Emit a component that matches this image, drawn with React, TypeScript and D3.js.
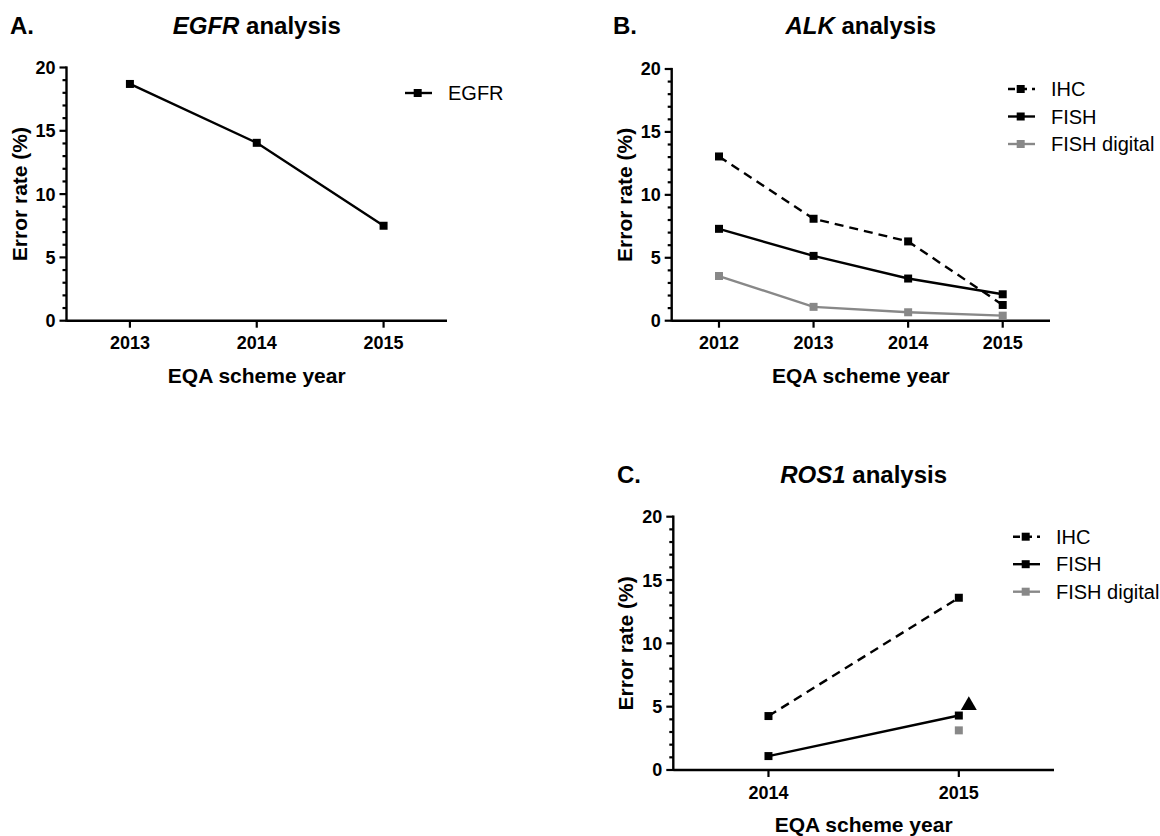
import { useEffect, useRef } from 'react';
import * as d3 from 'd3';

// categories
const yearsA = ['2013', '2014', '2015'];
const yearsB = ['2012', '2013', '2014', '2015'];
const yearsC = ['2014', '2015'];

// series values (error rate, %)
const egfr = [18.7, 14.05, 7.5];

const alkIHC = [13.05, 8.1, 6.3, 1.25];
const alkFISH = [7.3, 5.15, 3.35, 2.1];
const alkDigital = [3.55, 1.1, 0.67, 0.4];

const rosIHC = [4.26, 13.6];
const rosFISH = [1.1, 4.3];
const rosDigital = [null, 3.13];
const rosExtra = [null, 5.1]; // triangle next to 2015

const yTicks = [0, 5, 10, 15, 20];
const yMinorTicks = d3.range(0, 21, 1);

type Series = {
  name: string;
  values: (number | null)[];
  color: string;
  dash?: string;
  symbol?: d3.SymbolType;
  dx?: number;
  legend?: boolean;
};

type Panel = {
  letter: string;
  gene: string;
  years: string[];
  series: Series[];
  left: number;
  right: number;
  top: number;
  bottom: number;
  titleY: number;
  letterX: number;
  legendX: number;
  legendY: number;
};

const font = '"Liberation Sans", Arial, Helvetica, sans-serif';

const panels: Panel[] = [
  {
    letter: 'A.',
    gene: 'EGFR',
    years: yearsA,
    series: [{ name: 'EGFR', values: egfr, color: '#000' }],
    left: 66.5,
    right: 447,
    top: 67.5,
    bottom: 320.7,
    titleY: 33.5,
    letterX: 10,
    legendX: 405,
    legendY: 93,
  },
  {
    letter: 'B.',
    gene: 'ALK',
    years: yearsB,
    series: [
      { name: 'IHC', values: alkIHC, color: '#000', dash: '9,6' },
      { name: 'FISH', values: alkFISH, color: '#000' },
      { name: 'FISH digital', values: alkDigital, color: '#888' },
    ],
    left: 671.7,
    right: 1050,
    top: 69,
    bottom: 320.7,
    titleY: 34,
    letterX: 613,
    legendX: 1008,
    legendY: 89,
  },
  {
    letter: 'C.',
    gene: 'ROS1',
    years: yearsC,
    series: [
      { name: 'IHC', values: rosIHC, color: '#000', dash: '9,6' },
      { name: 'FISH', values: rosFISH, color: '#000' },
      { name: 'FISH digital', values: rosDigital, color: '#888' },
      { name: 'extra', values: rosExtra, color: '#000', symbol: d3.symbolTriangle, dx: 10, legend: false },
    ],
    left: 673.3,
    right: 1054,
    top: 516.7,
    bottom: 770,
    titleY: 482.7,
    letterX: 617,
    legendX: 1013,
    legendY: 536.7,
  },
];

const App = () => {
  const svgRef = useRef<SVGSVGElement>(null);

  useEffect(() => {
    const svg = d3.select(svgRef.current);
    svg.selectAll('*').remove();

    panels.forEach((p) => {
      const g = svg.append('g').style('font-family', font);

      const x = d3.scalePoint<string>().domain(p.years).range([p.left, p.right]).padding(0.5);
      const y = d3.scaleLinear().domain([0, 20]).range([p.bottom, p.top]);
      const cx = (p.left + p.right) / 2;

      // panel letter + title
      g.append('text')
        .attr('x', p.letterX)
        .attr('y', p.titleY)
        .attr('font-size', 24)
        .attr('font-weight', 'bold')
        .text(p.letter);
      const title = g
        .append('text')
        .attr('x', cx)
        .attr('y', p.titleY)
        .attr('font-size', 24)
        .attr('font-weight', 'bold')
        .attr('text-anchor', 'middle');
      title.append('tspan').attr('font-style', 'italic').text(p.gene);
      title.append('tspan').text(' analysis');

      // y axis
      g.append('g')
        .selectAll('line')
        .data(yMinorTicks)
        .enter()
        .append('line')
        .attr('x1', (d) => (d % 5 === 0 ? p.left - 7 : p.left - 4))
        .attr('x2', p.left)
        .attr('y1', (d) => y(d))
        .attr('y2', (d) => y(d))
        .attr('stroke', '#000')
        .attr('stroke-width', 2.2);
      g.append('line')
        .attr('x1', p.left)
        .attr('x2', p.left)
        .attr('y1', y(20) - 1.1)
        .attr('y2', p.bottom + 1.1)
        .attr('stroke', '#000')
        .attr('stroke-width', 2.4);
      g.append('g')
        .selectAll('text')
        .data(yTicks)
        .enter()
        .append('text')
        .attr('x', p.left - 11)
        .attr('y', (d) => y(d))
        .attr('dy', '0.36em')
        .attr('text-anchor', 'end')
        .attr('font-size', 18)
        .attr('font-weight', 'bold')
        .text((d) => d);

      // x axis
      g.append('line')
        .attr('x1', p.left)
        .attr('x2', p.right)
        .attr('y1', p.bottom)
        .attr('y2', p.bottom)
        .attr('stroke', '#000')
        .attr('stroke-width', 2.4);
      g.append('g')
        .selectAll('line')
        .data(p.years)
        .enter()
        .append('line')
        .attr('x1', (d) => x(d)!)
        .attr('x2', (d) => x(d)!)
        .attr('y1', p.bottom)
        .attr('y2', p.bottom + 7)
        .attr('stroke', '#000')
        .attr('stroke-width', 2.2);
      g.append('g')
        .selectAll('text')
        .data(p.years)
        .enter()
        .append('text')
        .attr('x', (d) => x(d)!)
        .attr('y', p.bottom + 28.5)
        .attr('text-anchor', 'middle')
        .attr('font-size', 18)
        .attr('font-weight', 'bold')
        .text((d) => d);

      // axis titles
      g.append('text')
        .attr('x', cx)
        .attr('y', p.bottom + 62)
        .attr('text-anchor', 'middle')
        .attr('font-size', 21)
        .attr('font-weight', 'bold')
        .text('EQA scheme year');
      g.append('text')
        .attr('transform', `translate(${p.left - 40},${(p.top + p.bottom) / 2}) rotate(-90)`)
        .attr('text-anchor', 'middle')
        .attr('font-size', 21)
        .attr('font-weight', 'bold')
        .text('Error rate (%)');

      // series
      p.series.forEach((s) => {
        const pts = p.years
          .map((yr, i) => ({ yr, v: s.values[i] }))
          .filter((d) => d.v !== null) as { yr: string; v: number }[];
        const dx = s.dx ?? 0;
        if (pts.length > 1) {
          const line = d3
            .line<{ yr: string; v: number }>()
            .x((d) => x(d.yr)! + dx)
            .y((d) => y(d.v));
          g.append('path')
            .attr('d', line(pts))
            .attr('fill', 'none')
            .attr('stroke', s.color)
            .attr('stroke-width', 2.4)
            .attr('stroke-dasharray', s.dash ?? null);
        }
        const sym = d3.symbol().type(s.symbol ?? d3.symbolSquare).size(s.symbol ? 110 : 64);
        g.append('g')
          .selectAll('path')
          .data(pts)
          .enter()
          .append('path')
          .attr('d', sym())
          .attr('transform', (d) => `translate(${x(d.yr)! + dx},${y(d.v)})`)
          .attr('fill', s.color);
      });

      // legend
      const leg = p.series.filter((s) => s.legend !== false);
      leg.forEach((s, i) => {
        const ly = p.legendY + i * 27.5;
        const lg = g.append('g');
        lg.append('line')
          .attr('x1', p.legendX)
          .attr('x2', p.legendX + 27)
          .attr('y1', ly)
          .attr('y2', ly)
          .attr('stroke', s.color)
          .attr('stroke-width', 2.4)
          .attr('stroke-dasharray', s.dash ? '7,5' : null);
        lg.append('path')
          .attr('d', d3.symbol().type(d3.symbolSquare).size(64)())
          .attr('transform', `translate(${p.legendX + 12.7},${ly})`)
          .attr('fill', s.color);
        lg.append('text')
          .attr('x', p.legendX + 43)
          .attr('y', ly)
          .attr('dy', '0.36em')
          .attr('font-size', 20)
          .attr('fill', '#000')
          .text(s.name);
      });
    });
  }, []);

  return (
    <svg
      ref={svgRef}
      width={1160}
      height={836}
      style={{ position: 'absolute', left: 0, top: 0, background: '#fff' }}
    ></svg>
  );
};

export default App;
